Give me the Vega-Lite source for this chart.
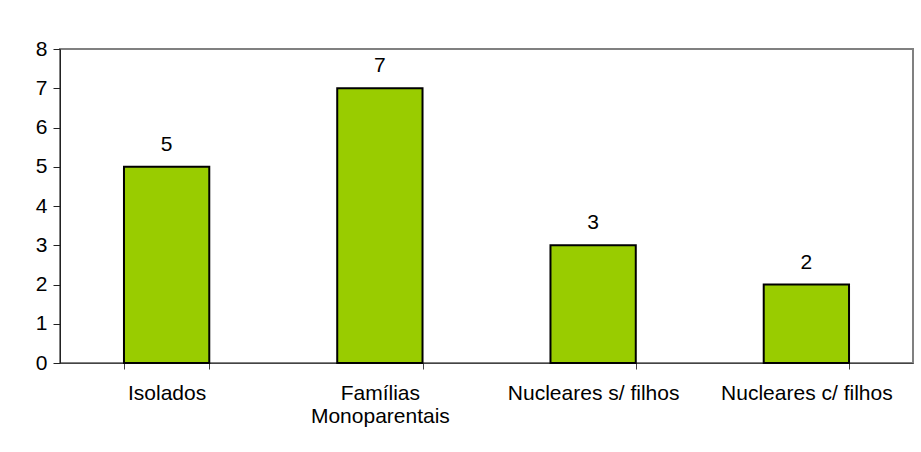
{
  "$schema": "https://vega.github.io/schema/vega-lite/v6.json",
  "autosize": "none",
  "width": 853,
  "height": 314,
  "padding": {"left": 60, "top": 49, "right": 8, "bottom": 89},
  "background": "white",
  "data": {"values": [
    {"categoria": "Isolados", "valor": 5},
    {"categoria": "Famílias Monoparentais", "valor": 7},
    {"categoria": "Nucleares s/ filhos", "valor": 3},
    {"categoria": "Nucleares c/ filhos", "valor": 2}
  ]},
  "encoding": {
    "x": {
      "field": "categoria", "type": "nominal", "sort": null,
      "scale": {"paddingInner": 0.6, "paddingOuter": 0.3},
      "axis": {
        "title": null, "labelAngle": 0, "tickBand": "extent",
        "labelExpr": "datum.value == 'Famílias Monoparentais' ? ['Famílias', 'Monoparentais'] : datum.label",
        "labelLineHeight": 23, "labelPadding": 13, "labelFontSize": 21,
        "labelFont": "Liberation Sans", "labelColor": "black",
        "domainColor": "#444", "tickColor": "#444", "tickSize": 6
      }
    },
    "y": {
      "field": "valor", "type": "quantitative",
      "scale": {"domain": [0, 8], "nice": false},
      "axis": {
        "title": null, "grid": false, "values": [0,1,2,3,4,5,6,7,8],
        "labelFontSize": 21, "labelFont": "Liberation Sans", "labelColor": "black",
        "labelPadding": 6, "domainColor": "#222", "tickColor": "#222", "tickSize": 7
      }
    }
  },
  "layer": [
    {"mark": {"type": "bar", "color": "#99CC00", "stroke": "black", "strokeWidth": 2}},
    {"mark": {"type": "text", "baseline": "bottom", "dy": -12, "fontSize": 21, "font": "Liberation Sans", "color": "black"},
     "encoding": {"text": {"field": "valor", "type": "quantitative"}}}
  ],
  "config": {
    "view": {"stroke": "#808080", "strokeWidth": 2}
  }
}
